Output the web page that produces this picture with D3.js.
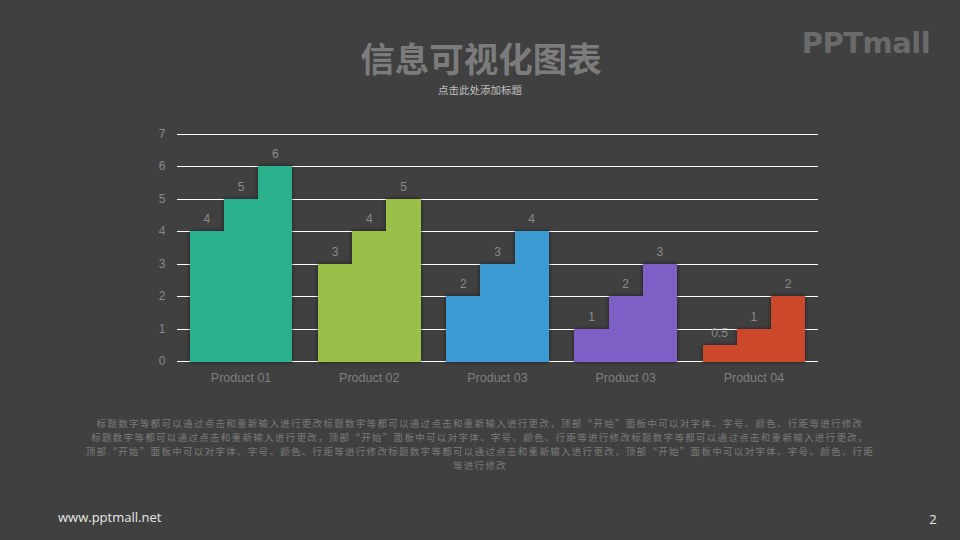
<!DOCTYPE html>
<html><head><meta charset="utf-8">
<script src="https://cdn.jsdelivr.net/npm/d3@7"></script>
<style>
html,body{margin:0;padding:0;background:#404040;}
svg{display:block;font-family:"Noto Sans CJK SC","Microsoft YaHei",sans-serif;}
</style></head>
<body>
<script>
const categories = ["Product 01","Product 02","Product 03","Product 03","Product 04"];
const series1 = [4,3,2,1,0.5];
const series2 = [5,4,3,2,1];
const series3 = [6,5,4,3,2];
const categoryColors = ["#29B08D","#9BC04A","#3B9BD2","#7E5EC5","#CB4A2A"];
const yTicks = [0,1,2,3,4,5,6,7];
const titleText = "信息可视化图表";
const subtitleText = "点击此处添加标题";
const bodyLines = [
 "标题数字等都可以通过点击和重新输入进行更改标题数字等都可以通过点击和重新输入进行更改，顶部“开始”面板中可以对字体、字号、颜色、行距等进行修改",
 "标题数字等都可以通过点击和重新输入进行更改，顶部“开始”面板中可以对字体、字号、颜色、行距等进行修改标题数字等都可以通过点击和重新输入进行更改，",
 "顶部“开始”面板中可以对字体、字号、颜色、行距等进行修改标题数字等都可以通过点击和重新输入进行更改，顶部“开始”面板中可以对字体、字号、颜色、行距",
 "等进行修改"
];

const W=960,H=540;
const svg=d3.select("body").append("svg").attr("width",W).attr("height",H);
svg.append("rect").attr("width",W).attr("height",H).attr("fill","#404040");

const defs=svg.append("defs");
const f=defs.append("filter").attr("id","sh").attr("x","-20%").attr("y","-20%").attr("width","140%").attr("height","140%");
f.append("feDropShadow").attr("dx",0).attr("dy",0).attr("stdDeviation",2.2).attr("flood-color","#000").attr("flood-opacity",0.55);

// title
svg.append("text").attr("x",481).attr("y",71.5).attr("text-anchor","middle")
  .attr("font-size",34.5).attr("font-weight","bold").attr("fill","#7c7c7c").text(titleText);
svg.append("text").attr("x",480).attr("y",94).attr("text-anchor","middle")
  .attr("font-size",10.5).attr("fill","#c0c0c0").text(subtitleText);

// logo
svg.append("text").attr("x",866).attr("y",53).attr("text-anchor","middle")
  .attr("font-family","'DejaVu Sans',sans-serif").attr("font-size",29).attr("font-weight","bold")
  .attr("letter-spacing",-0.5).attr("fill","#6a6a6a").text("PPTmall");

const x=d3.scaleBand().domain(d3.range(categories.length)).range([177,818]).paddingInner(0.2).paddingOuter(0.1);
const y=d3.scaleLinear().domain([0,7]).range([361,134]);

// grid
svg.append("g").selectAll("line").data(yTicks).join("line")
  .attr("x1",177).attr("x2",818).attr("y1",d=>Math.round(y(d))+0.5).attr("y2",d=>Math.round(y(d))+0.5)
  .attr("stroke","#ffffff").attr("stroke-width",1.2);

// y tick labels
svg.append("g").selectAll("text").data(yTicks).join("text")
  .attr("x",162).attr("y",d=>y(d)+4).attr("text-anchor","middle")
  .attr("font-family","Arial, 'Liberation Sans', sans-serif").attr("font-size",12).attr("fill","#888").text(d=>d);

const seriesAll=[series1,series2,series3];
const groups=categories.map((c,i)=>({i,vals:seriesAll.map((s,j)=>({i,j,v:s[i]}))}));
const sub=d3.scaleBand().domain([0,1,2]).range([0,x.bandwidth()]);
const bx0=d=>Math.round(x(d.i)+sub(d.j));
const bx1=d=>Math.round(x(d.i)+sub(d.j)+sub.bandwidth());

const g=svg.append("g").selectAll("g").data(groups).join("g").attr("filter","url(#sh)");
g.selectAll("rect").data(d=>d.vals).join("rect")
  .attr("x",bx0).attr("width",d=>bx1(d)-bx0(d)+(d.j<2?1:0))
  .attr("y",d=>Math.round(y(d.v))).attr("height",d=>Math.round(y(0))-Math.round(y(d.v))+1)
  .attr("shape-rendering","crispEdges")
  .attr("fill",d=>categoryColors[d.i]);

svg.append("g").selectAll("text").data(groups.flatMap(d=>d.vals)).join("text")
  .attr("x",d=>x(d.i)+sub(d.j)+sub.bandwidth()/2).attr("y",d=>y(d.v)-8)
  .attr("text-anchor","middle").attr("font-family","Arial, 'Liberation Sans', sans-serif")
  .attr("font-size",12).attr("fill","#8a8a8a").text(d=>d.v);

// x labels
svg.append("g").selectAll("text").data(categories).join("text")
  .attr("x",(d,i)=>x(i)+x.bandwidth()/2).attr("y",382).attr("text-anchor","middle")
  .attr("font-family","Arial, 'Liberation Sans', sans-serif").attr("font-size",12.5).attr("fill","#7f7f7f").text(d=>d);

// body text
svg.append("g").selectAll("text").data(bodyLines).join("text")
  .attr("x",480).attr("y",(d,i)=>427+i*14).attr("text-anchor","middle")
  .attr("font-size",9.5).attr("letter-spacing",1.3).attr("fill","#7a7a7a").text(d=>d);

// footer
svg.append("text").attr("x",58).attr("y",522).attr("font-family","'Open Sans',sans-serif")
  .attr("font-size",13).attr("fill","#e8e8e8").text("www.pptmall.net");
svg.append("text").attr("x",933).attr("y",524).attr("text-anchor","middle").attr("font-family","'Open Sans',sans-serif")
  .attr("font-size",13).attr("fill","#e8e8e8").text("2");
</script>
</body></html>
